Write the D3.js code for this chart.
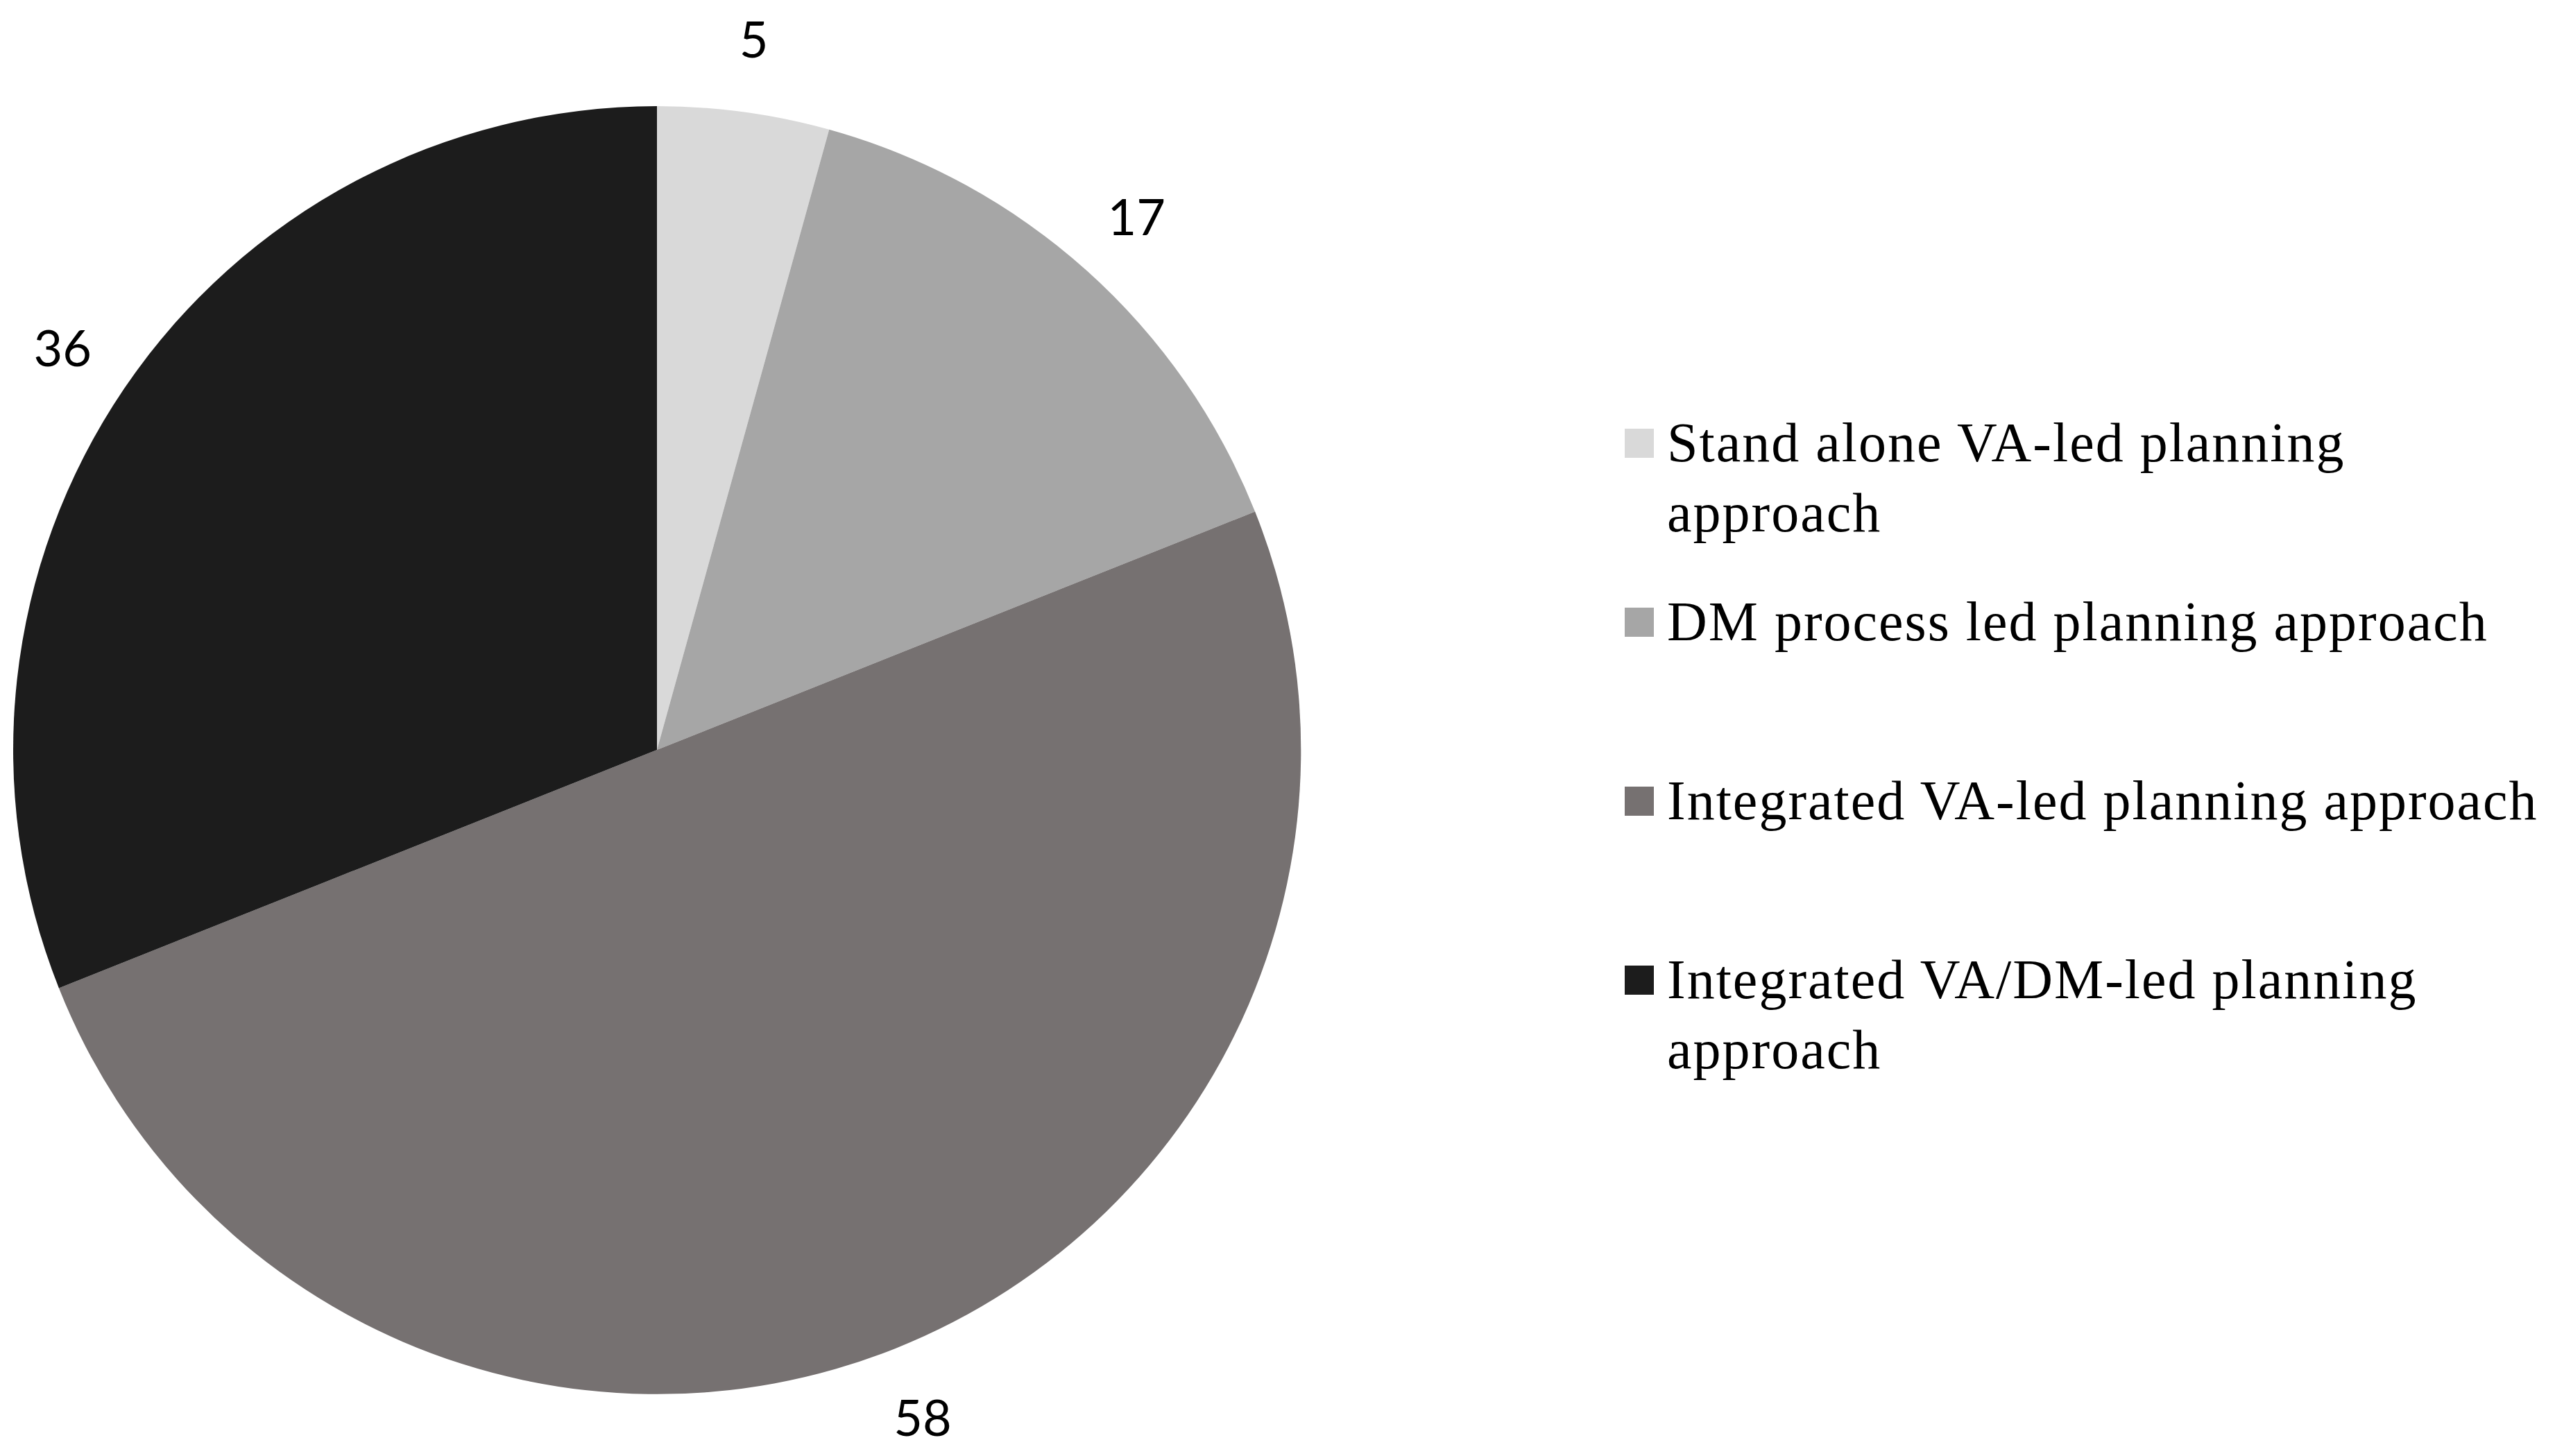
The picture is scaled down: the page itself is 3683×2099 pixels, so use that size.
<!DOCTYPE html>
<html>
<head>
<meta charset="utf-8">
<script src="https://cdn.jsdelivr.net/npm/d3@7"></script>
<style>
  body { margin: 0; background: #fff; }
</style>
</head>
<body>
<script>
var categories = ["Stand alone VA-led planning approach", "DM process led planning approach", "Integrated VA-led planning approach", "Integrated VA/DM-led planning approach"]
var legend_lines = [["Stand alone VA-led planning", "approach"], ["DM process led planning approach"], ["Integrated VA-led planning approach"], ["Integrated VA/DM-led planning", "approach"]]
var values = [5, 17, 58, 36]
var colors = ["#d9d9d9", "#a6a6a6", "#767171", "#1c1c1c"]

var width = 3683, height = 2099
var cx = 947, cy = 1081, radius = 928

var svg = d3.select("body").append("svg")
	.attr("width", width)
	.attr("height", height)

var color = d3.scaleOrdinal().domain(categories).range(colors)

var pie = d3.pie().sort(null).value(function(d){ return d.value })
var arcs = pie(categories.map(function(c, i){ return {name: c, value: values[i]} }))

var arc = d3.arc().innerRadius(0).outerRadius(radius)
var label_arc = d3.arc().innerRadius(1035).outerRadius(1035)

var g = svg.append("g").attr("transform", "translate(" + cx + "," + cy + ")")

g.selectAll("path.slice")
	.data(arcs)
	.enter().append("path")
	.attr("class", "slice")
	.attr("d", arc)
	.attr("fill", function(d){ return color(d.data.name) })

g.selectAll("text.value")
	.data(arcs)
	.enter().append("text")
	.attr("class", "value")
	.attr("transform", function(d){ return "translate(" + label_arc.centroid(d) + ")" })
	.attr("text-anchor", "middle")
	.attr("dominant-baseline", "central")
	.style("font-family", "Lato, 'Open Sans', sans-serif")
	.style("font-size", "72px")
	.style("fill", "#000")
	.text(function(d){ return d.data.value })

// legend
var legend_x = 2342, legend_top = 639, legend_step = 258, sq = 42, line_h = 101

var legend = svg.selectAll("g.legend")
	.data(categories)
	.enter().append("g")
	.attr("class", "legend")
	.attr("transform", function(d, i){ return "translate(" + legend_x + "," + (legend_top + i * legend_step) + ")" })

legend.append("rect")
	.attr("x", 0)
	.attr("y", -sq / 2)
	.attr("width", sq)
	.attr("height", sq)
	.attr("fill", function(d){ return color(d) })

legend.append("text")
	.attr("x", 61)
	.attr("y", 26)
	.style("font-family", "'Liberation Serif', 'DejaVu Serif', serif")
	.style("font-size", "80px")
	.style("letter-spacing", "2px")
	.style("fill", "#000")
	.selectAll("tspan")
	.data(function(d, i){ return legend_lines[i] })
	.enter().append("tspan")
	.attr("x", 61)
	.attr("dy", function(d, j){ return j == 0 ? 0 : line_h })
	.text(function(d){ return d })
</script>
</body>
</html>
